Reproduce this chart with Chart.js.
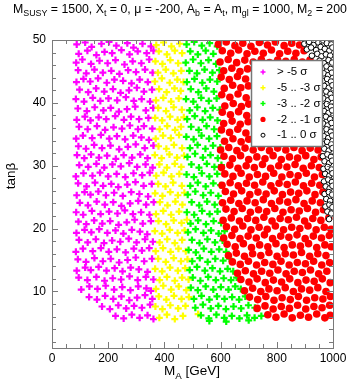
<!DOCTYPE html>
<html>
<head>
<meta charset="utf-8">
<script src="https://cdn.jsdelivr.net/npm/chart.js@4.4.0/dist/chart.umd.min.js"></script>
<style>
html, body { margin: 0; padding: 0; background: #fff; }
</style>
</head>
<body>
<canvas id="myChart" width="351" height="382"></canvas>
<script>
// puntos: [mA, tanb, mA, tanb, ...]
const magenta = [
  88,49.3, 118,49.6, 141,48.9, 176,49.4, 203,49.7, 229,49.1, 268,49.5, 290,48.8, 322,49.4, 352,49.0,
  95,47.8, 126,48.3, 158,47.6, 187,48.1, 214,47.9, 247,48.4, 276,47.7, 305,48.2, 337,47.9, 361,48.3,
  86,46.4, 108,46.9, 139,46.2, 169,46.7, 198,46.3, 226,46.8, 258,46.1, 287,46.6, 318,46.3, 346,46.9,
  93,45.2, 122,44.7, 151,45.3, 181,44.8, 211,45.1, 240,44.6, 271,45.2, 299,44.9, 331,45.3, 358,44.8,
  87,43.3, 112,43.8, 136,43.4, 164,43.9, 195,43.2, 222,43.7, 253,43.5, 283,43.1, 312,43.7, 341,43.3,
  98,42.1, 129,41.7, 157,42.3, 186,41.8, 217,42.2, 244,41.6, 274,42.0, 302,42.4, 327,41.8, 356,42.1,
  85,40.6, 114,40.2, 145,40.8, 172,40.3, 201,40.7, 232,40.4, 263,40.9, 291,40.3, 319,40.6, 349,40.2,
  92,39.1, 124,38.7, 152,39.3, 183,38.8, 209,39.2, 238,38.6, 267,39.0, 296,39.4, 334,38.8, 360,39.2,
  88,37.3, 117,37.8, 137,37.2, 166,37.7, 193,37.4, 225,37.9, 256,37.3, 281,37.8, 310,37.4, 343,37.6,
  96,36.2, 127,35.8, 160,36.3, 189,35.7, 219,36.1, 249,35.9, 277,36.4, 306,35.8, 327,36.3, 357,35.9,
  86,34.3, 110,34.8, 143,34.4, 174,34.9, 204,34.3, 231,34.7, 260,34.2, 289,34.8, 318,34.5, 345,34.1,
  94,33.1, 121,32.7, 150,33.3, 178,32.8, 208,33.2, 239,32.6, 270,33.0, 298,33.4, 330,32.8, 361,33.2,
  89,31.7, 115,31.2, 139,31.8, 167,31.3, 196,31.6, 227,31.1, 255,31.7, 285,31.3, 314,31.8, 340,31.2,
  97,30.1, 129,29.8, 158,30.3, 186,29.7, 215,30.2, 245,29.9, 275,30.4, 303,29.8, 333,30.2, 358,29.7,
  85,28.3, 112,28.8, 144,28.4, 171,28.9, 200,28.3, 230,28.7, 261,28.2, 290,28.8, 321,28.5, 348,28.9,
  93,27.2, 123,26.7, 153,27.3, 182,26.8, 211,27.1, 236,26.6, 268,27.0, 297,27.4, 326,26.8, 355,27.1,
  88,25.3, 116,25.8, 137,25.4, 165,25.9, 192,25.3, 221,25.7, 252,25.2, 282,25.8, 311,25.5, 342,25.1,
  99,24.1, 128,23.7, 159,24.3, 188,23.8, 218,24.2, 247,23.6, 278,24.0, 307,24.4, 335,23.8, 362,24.2,
  86,22.6, 111,22.2, 142,22.8, 173,22.3, 203,22.7, 233,22.4, 259,22.9, 288,22.3, 317,22.6, 347,22.2,
  94,21.1, 122,20.7, 150,21.3, 179,20.8, 207,21.2, 237,20.6, 266,21.0, 294,21.4, 323,20.8, 352,21.2,
  87,19.3, 116,19.8, 140,19.4, 168,19.9, 197,19.3, 226,19.7, 254,19.2, 284,19.8, 313,19.5, 339,19.1,
  96,18.2, 127,17.8, 156,18.3, 185,17.7, 214,18.1, 243,17.9, 273,18.4, 301,17.8, 331,18.3, 359,17.9,
  85,16.3, 110,16.8, 145,16.4, 174,16.9, 202,16.3, 231,16.7, 262,16.2, 291,16.8, 320,16.5, 346,16.9,
  92,15.1, 121,14.7, 151,15.3, 181,14.8, 209,15.2, 239,14.6, 269,15.0, 298,15.4, 328,14.8, 356,15.2,
  88,13.3, 118,13.8, 138,13.4, 166,13.9, 194,13.3, 223,13.7, 251,13.2, 280,13.8, 309,13.5, 340,13.1,
  95,12.2, 126,11.8, 158,12.3, 187,11.7, 216,12.1, 246,11.9, 276,12.4, 305,11.8, 334,12.3, 361,11.9,
  104,10.3, 133,10.8, 162,10.4, 191,10.9, 221,10.3, 250,10.7, 279,10.2, 307,10.8, 336,10.5, 352,10.1,
  132,9.1, 160,8.7, 189,9.3, 218,8.8, 247,9.2, 275,8.6, 303,9.0, 331,9.4, 357,8.8,
  178,7.6, 206,7.2, 236,7.8, 264,7.3, 292,7.7, 320,7.4, 349,7.9,
  226,6.1, 255,5.7, 284,6.3, 312,5.8, 340,6.2, 361,5.6
];
const amarillo = [
  371,49.2, 397,49.6, 425,49.0, 454,49.4,
  380,48.2, 409,47.7, 437,48.3, 463,47.9,
  368,46.6, 393,46.2, 421,46.8, 449,46.3,
  377,44.8, 405,45.3, 432,44.7, 460,45.1,
  366,43.4, 391,43.9, 419,43.2, 446,43.7, 468,43.3,
  381,42.2, 408,41.7, 436,42.3, 458,41.9,
  370,40.4, 396,40.8, 424,40.2, 451,40.7,
  378,39.2, 406,38.7, 433,39.3, 462,38.9,
  367,37.6, 392,37.2, 420,37.8, 447,37.3, 469,37.7,
  383,35.8, 410,36.3, 438,35.7, 459,36.2,
  369,34.3, 395,34.8, 423,34.4, 452,34.9,
  379,33.1, 407,32.7, 434,33.3, 463,32.8,
  366,31.7, 390,31.2, 418,31.8, 445,31.3, 470,31.6,
  382,30.2, 409,29.7, 437,30.3, 460,29.8,
  371,28.4, 397,28.9, 425,28.3, 453,28.7,
  378,27.1, 404,26.7, 431,27.3, 462,26.8,
  367,25.6, 393,25.2, 421,25.8, 448,25.3, 471,25.7,
  384,24.2, 411,23.7, 439,24.3, 464,23.8,
  370,22.3, 396,22.8, 424,22.2, 452,22.7,
  379,21.2, 406,20.7, 433,21.3, 461,20.9, 480,21.4,
  366,19.6, 392,19.2, 419,19.8, 447,19.3, 472,19.7,
  383,17.8, 410,18.3, 437,17.7, 463,18.2,
  369,16.4, 395,16.9, 422,16.3, 450,16.8, 476,16.4,
  378,15.2, 405,14.7, 433,15.3, 459,14.8, 482,15.1,
  367,13.6, 392,13.2, 420,13.8, 448,13.3, 474,13.7,
  383,11.8, 409,12.3, 437,11.7, 463,12.2, 486,11.9,
  370,10.4, 396,10.9, 424,10.3, 451,10.8, 478,10.2,
  380,9.2, 407,8.7, 434,9.3, 461,8.8, 487,9.1,
  368,7.6, 393,7.2, 421,7.8, 449,7.3, 475,7.7,
  382,5.8, 409,6.3, 437,5.6, 466,6.1, 520,6.4
];
const verde = [
  479,49.3, 506,49.7, 533,49.1, 561,49.5, 588,49.0,
  492,48.2, 519,47.7, 547,48.3, 574,47.8,
  476,46.4, 502,46.9, 530,46.3, 557,46.8, 584,46.2,
  489,45.1, 516,44.7, 543,45.3, 571,44.8, 596,45.2,
  480,43.3, 507,43.8, 535,43.2, 562,43.7, 588,43.4,
  494,42.2, 521,41.7, 549,42.3, 576,41.8,
  477,40.6, 503,40.2, 531,40.8, 558,40.3, 586,40.7,
  490,38.8, 517,39.3, 545,38.7, 572,39.2, 597,38.9,
  481,37.4, 508,37.9, 536,37.3, 563,37.7, 589,37.2,
  495,36.2, 522,35.7, 550,36.3, 577,35.8,
  478,34.6, 504,34.2, 532,34.8, 559,34.3, 587,34.7,
  491,32.8, 518,33.3, 546,32.7, 573,33.2, 599,32.9,
  482,31.4, 509,31.9, 537,31.3, 564,31.7, 590,31.2,
  496,30.2, 523,29.7, 551,30.3, 578,29.8, 603,30.1,
  479,28.6, 505,28.2, 533,28.8, 560,28.3, 588,28.7,
  492,26.8, 519,27.3, 547,26.7, 574,27.2, 600,26.9,
  483,25.4, 510,25.9, 538,25.3, 565,25.7, 592,25.2,
  497,24.2, 524,23.7, 552,24.3, 579,23.8, 605,24.1,
  480,22.6, 506,22.2, 534,22.8, 561,22.3, 589,22.7,
  493,20.8, 520,21.3, 548,20.7, 575,21.2, 602,20.9,
  484,19.4, 511,19.9, 539,19.3, 566,19.7, 593,19.2, 614,19.6,
  498,18.2, 525,17.7, 553,18.3, 580,17.8, 607,18.1,
  486,16.6, 512,16.2, 540,16.8, 567,16.3, 595,16.7, 620,16.3,
  499,14.8, 526,15.3, 554,14.7, 581,15.2, 609,14.9, 632,15.2,
  490,13.4, 516,13.9, 544,13.3, 571,13.7, 598,13.2, 625,13.6, 645,13.2,
  501,12.2, 528,11.7, 556,12.3, 583,11.8, 611,12.1, 637,11.8, 657,12.2,
  494,10.6, 519,10.2, 547,10.8, 574,10.3, 601,10.7, 628,10.3, 652,10.8, 672,10.4,
  505,8.8, 532,9.3, 560,8.7, 587,9.2, 614,8.8, 641,9.1, 666,8.7, 688,9.2,
  510,7.4, 537,7.9, 565,7.3, 592,7.7, 619,7.2, 646,7.6, 673,7.3, 699,7.8, 722,7.4,
  530,6.2, 558,5.7, 585,6.3, 613,5.8, 640,6.1, 667,5.7, 694,6.2, 721,5.8, 745,6.1,
  560,5.3, 620,5.2, 700,5.4
];
const rojo = [
  592,49.3, 620,49.7, 651,49.1, 679,49.5, 708,49.0, 738,49.6, 767,49.2, 795,49.7, 826,49.1, 853,49.5, 881,49.2,
  606,48.3, 636,47.9, 664,48.4, 694,47.8, 722,48.2, 752,47.9, 781,48.4, 810,47.8, 839,48.2, 868,47.9, 897,48.3,
  598,46.5, 627,46.9, 657,46.4, 686,46.8, 716,46.5, 745,46.9, 774,46.4, 803,46.8, 832,46.6, 862,46.9, 891,46.5, 918,46.8,
  611,45.1, 640,45.5, 669,45.0, 696,45.4,
  602,44.1, 631,43.7, 660,44.2, 689,43.8,
  613,42.3, 643,42.8, 672,42.4, 699,42.7,
  604,41.3, 633,40.9, 662,41.4, 691,40.8,
  615,39.5, 645,39.9, 674,39.4, 700,39.8,
  606,38.5, 635,38.1, 664,38.6, 693,38.0,
  611,36.7, 641,37.1, 670,36.6, 698,37.0,
  603,35.7, 632,35.3, 661,35.8, 690,35.2,
  614,33.9, 644,34.3, 673,33.8, 700,34.2,
  600,32.5, 629,32.9, 658,32.4, 687,32.8, 716,32.5, 745,32.9, 774,32.4, 803,32.8, 832,32.5, 861,32.9, 890,32.4, 919,32.8, 947,32.5,
  612,31.5, 642,31.1, 671,31.6, 700,31.0, 729,31.4, 758,31.1, 787,31.6, 816,31.0, 845,31.4, 874,31.2, 903,31.6, 932,31.0, 958,31.4,
  603,29.7, 633,30.1, 662,29.6, 691,30.0, 720,29.7, 749,30.2, 778,29.6, 807,30.0, 836,29.8, 865,30.2, 894,29.6, 923,30.0, 951,29.7,
  615,28.7, 644,28.3, 673,28.8, 702,28.2, 731,28.6, 760,28.3, 789,28.8, 818,28.2, 847,28.6, 876,28.4, 905,28.8, 934,28.2, 962,28.6,
  605,26.9, 634,27.3, 663,26.8, 692,27.2, 721,26.9, 750,27.4, 779,26.8, 808,27.2, 837,27.0, 866,27.4, 895,26.8, 924,27.2, 953,26.9,
  617,25.9, 646,25.5, 675,26.0, 704,25.4, 733,25.8, 762,25.5, 791,26.0, 820,25.4, 849,25.8, 878,25.6, 907,26.0, 936,25.4, 964,25.8,
  607,24.1, 636,24.5, 665,24.0, 694,24.4, 723,24.1, 752,24.6, 781,24.0, 810,24.4, 839,24.2, 868,24.6, 897,24.0, 926,24.4, 955,24.1,
  619,23.1, 648,22.7, 677,23.2, 706,22.6, 735,23.0, 764,22.7, 793,23.2, 822,22.6, 851,23.0, 880,22.8, 909,23.2, 938,22.6, 966,23.0,
  609,21.3, 638,21.7, 667,21.2, 696,21.6, 725,21.3, 754,21.8, 783,21.2, 812,21.6, 841,21.4, 870,21.8, 899,21.2, 928,21.6, 957,21.3, 985,21.7,
  621,20.3, 650,19.9, 679,20.4, 708,19.8, 737,20.2, 766,19.9, 795,20.4, 824,19.8, 853,20.2, 882,20.0, 911,20.4, 940,19.8, 969,20.2, 993,19.9,
  611,18.5, 640,18.9, 669,18.4, 698,18.8, 727,18.5, 756,19.0, 785,18.4, 814,18.8, 843,18.6, 872,19.0, 901,18.4, 930,18.8, 959,18.5, 987,18.9,
  623,17.5, 652,17.1, 681,17.6, 710,17.0, 739,17.4, 768,17.1, 797,17.6, 826,17.0, 855,17.4, 884,17.2, 913,17.6, 942,17.0, 971,17.4, 994,17.1,
  628,15.7, 656,16.1, 685,15.6, 714,16.0, 743,15.7, 772,16.2, 801,15.6, 830,16.0, 859,15.8, 888,16.2, 917,15.6, 946,16.0, 975,15.7,
  642,14.7, 670,14.3, 699,14.8, 728,14.2, 757,14.6, 786,14.3, 815,14.8, 844,14.2, 873,14.6, 902,14.4, 931,14.8, 960,14.2, 988,14.6,
  660,12.9, 688,13.3, 717,12.8, 746,13.2, 775,12.9, 804,13.4, 833,12.8, 862,13.2, 891,13.0, 920,13.4, 949,12.8, 978,13.2,
  672,11.9, 701,11.5, 730,12.0, 759,11.4, 788,11.8, 817,11.5, 846,12.0, 875,11.4, 904,11.8, 933,11.6, 962,12.0, 990,11.4,
  685,10.1, 714,10.5, 743,10.0, 772,10.4, 801,10.1, 830,10.6, 859,10.0, 888,10.4, 917,10.2, 946,10.6, 975,10.0,
  703,9.1, 732,8.7, 761,9.2, 790,8.6, 819,9.0, 848,8.7, 877,9.2, 906,8.6, 935,9.0, 964,8.8, 991,9.2,
  730,7.3, 758,7.7, 787,7.2, 816,7.6, 845,7.3, 874,7.8, 903,7.2, 932,7.6, 961,7.4, 988,7.8,
  768,6.3, 797,5.9, 826,6.4, 855,5.8, 884,6.2, 913,5.9, 942,6.4, 971,5.8, 990,6.2
];
const negro = [
  898,49.4, 915,49.7, 931,49.2, 948,49.6, 963,49.1, 978,49.5, 994,49.3,
  907,48.5, 922,48.8, 940,48.4, 956,48.9, 971,48.6, 987,48.3, 998,48.8,
  925,47.5, 944,47.8, 959,47.4, 975,47.7, 990,47.5,
  952,46.7, 968,46.3, 984,46.8, 997,46.4,
  962,45.5, 977,45.8, 992,45.4,
  967,44.7, 983,44.4, 996,44.8,
  964,43.5, 979,43.8, 993,43.4,
  969,42.7, 985,42.4, 998,42.8,
  962,41.5, 976,41.8, 991,41.4,
  966,40.7, 982,40.4, 995,40.8,
  963,39.5, 978,39.8, 993,39.4,
  968,38.7, 984,38.4, 997,38.8,
  961,37.5, 975,37.8, 990,37.4,
  965,36.7, 981,36.4, 995,36.8,
  962,35.5, 977,35.8, 992,35.4,
  967,34.7, 983,34.4, 997,34.8,
  963,33.5, 979,33.8, 994,33.4,
  969,32.7, 985,32.4, 998,32.8,
  964,31.5, 980,31.8, 993,31.4,
  970,30.7, 986,30.4, 997,30.8,
  966,29.5, 981,29.8, 995,29.4,
  972,28.7, 987,28.4, 998,28.8,
  968,27.5, 983,27.8, 996,27.4,
  974,26.7, 988,26.4, 998,26.8,
  970,25.5, 985,25.8, 997,25.4,
  976,24.7, 990,24.4,
  973,23.5, 987,23.8, 998,23.4,
  980,22.7, 994,22.4,
  986,21.5
];
const etiquetas = ['> -5 \u03c3', '-5 .. -3 \u03c3', '-3 .. -2 \u03c3', '-2 .. -1 \u03c3', '-1 .. 0 \u03c3'];
const xTicks = [0, 200, 400, 600, 800, 1000];
const yTicks = [10, 20, 30, 40, 50];

const fuente = '"Liberation Sans", Arial, sans-serif';

function pares(arr) {
  const out = [];
  for (let i = 0; i < arr.length; i += 2) out.push({x: arr[i], y: arr[i + 1]});
  return out;
}

const estilos = [
  {pointStyle: 'cross', radius: 3.5, borderWidth: 2.2, borderColor: '#ff00ff', backgroundColor: '#ff00ff'},
  {pointStyle: 'cross', radius: 3.5, borderWidth: 2.2, borderColor: '#ffff00', backgroundColor: '#ffff00'},
  {pointStyle: 'cross', radius: 3.5, borderWidth: 2.2, borderColor: '#00ff00', backgroundColor: '#00ff00'},
  {pointStyle: 'circle', radius: 3.8, borderWidth: 0, borderColor: '#ff0000', backgroundColor: '#ff0000'},
  {pointStyle: 'circle', radius: 2.8, borderWidth: 1, borderColor: '#000', backgroundColor: '#fff'}
];
const series = [magenta, amarillo, verde, rojo, negro];

const datasets = series.map((s, i) => ({
  label: etiquetas[i],
  data: pares(s),
  pointStyle: estilos[i].pointStyle,
  pointRadius: estilos[i].radius,
  pointBorderWidth: estilos[i].borderWidth,
  pointBorderColor: estilos[i].borderColor,
  pointBackgroundColor: estilos[i].backgroundColor,
  order: 4 - i
}));

// texto con subindices
function textoRico(ctx, partes, x, y, size) {
  let cx = x;
  for (const p of partes) {
    const s = p.sub ? size * 0.72 : size;
    ctx.font = s + 'px ' + fuente;
    ctx.fillText(p.t, cx, p.sub ? y + size * 0.28 : y);
    cx += ctx.measureText(p.t).width;
  }
  return cx - x;
}
function anchoRico(ctx, partes, size) {
  let w = 0;
  for (const p of partes) {
    ctx.font = (p.sub ? size * 0.72 : size) + 'px ' + fuente;
    w += ctx.measureText(p.t).width;
  }
  return w;
}

const titulo = [
  {t: 'M'}, {t: 'SUSY', sub: true}, {t: ' = 1500, X'}, {t: 't', sub: true}, {t: ' = 0, \u03bc = -200, A'},
  {t: 'b', sub: true}, {t: ' = A'}, {t: 't', sub: true}, {t: ', m'}, {t: 'gl', sub: true},
  {t: ' = 1000, M'}, {t: '2', sub: true}, {t: ' = 200'}
];
const tituloX = [{t: 'M'}, {t: 'A', sub: true}, {t: ' [GeV]'}];

const marco = {
  id: 'marco',
  afterDraw(chart) {
    const {ctx, chartArea: a, scales: {x, y}} = chart;
    ctx.save();
    ctx.strokeStyle = '#7a7a7a';
    ctx.lineWidth = 1;
    ctx.strokeRect(Math.round(a.left) + 0.5, Math.round(a.top) + 0.5, Math.round(a.right - a.left), Math.round(a.bottom - a.top));
    ctx.beginPath();
    for (let v = 0; v <= 1000; v += 50) {
      const px = Math.round(x.getPixelForValue(v)) + 0.5;
      const l = v % 200 === 0 ? 6 : 4;
      ctx.moveTo(px, a.bottom); ctx.lineTo(px, a.bottom - l);
      ctx.moveTo(px, a.top); ctx.lineTo(px, a.top + l);
    }
    for (let v = 2; v <= 50; v += 2) {
      const py = Math.round(y.getPixelForValue(v)) + 0.5;
      const l = v % 10 === 0 ? 6 : 4;
      ctx.moveTo(a.left, py); ctx.lineTo(a.left + l, py);
      ctx.moveTo(a.right, py); ctx.lineTo(a.right - l, py);
    }
    ctx.stroke();

    // leyenda
    const lx = 251, ly = 60, lw = 71, lh = 86;
    ctx.fillStyle = '#fff';
    ctx.fillRect(lx, ly, lw, lh);
    ctx.strokeStyle = '#777';
    ctx.lineWidth = 1.5;
    ctx.strokeRect(lx + 0.5, ly + 0.5, lw, lh);
    etiquetas.forEach((t, i) => {
      const yy = 72 + i * 15.8;
      const e = estilos[i];
      ctx.fillStyle = e.backgroundColor;
      ctx.strokeStyle = e.borderColor;
      ctx.lineWidth = e.pointStyle === 'cross' ? 1.5 : e.borderWidth;
      Chart.helpers.drawPoint(ctx, {
        pointStyle: e.pointStyle,
        radius: e.pointStyle === 'cross' ? 2.5 : (i === 3 ? 2.6 : 2),
        borderWidth: e.pointStyle === 'cross' ? 1.5 : e.borderWidth,
        rotation: 0
      }, 263, yy);
      ctx.fillStyle = '#000';
      ctx.font = '11.5px ' + fuente;
      ctx.textBaseline = 'middle';
      ctx.textAlign = 'left';
      ctx.fillText(t, 277, yy);
    });

    // titulos
    ctx.fillStyle = '#000';
    ctx.textBaseline = 'alphabetic';
    const w = anchoRico(ctx, titulo, 12);
    const size = 12 * 334 / w;
    textoRico(ctx, titulo, 13, 13, size);
    const wx = anchoRico(ctx, tituloX, 13.5);
    textoRico(ctx, tituloX, 192 - wx / 2, 375, 13.5);
    ctx.translate(15, 176);
    ctx.rotate(-Math.PI / 2);
    ctx.font = '13.5px ' + fuente;
    ctx.textAlign = 'center';
    ctx.fillText('tan\u03b2', 0, 0);
    ctx.restore();
  }
};

new Chart(document.getElementById('myChart'), {
  type: 'scatter',
  data: {datasets},
  options: {
    responsive: false,
    animation: false,
    layout: {padding: {top: 40, right: 18, left: 0, bottom: 0}},
    plugins: {legend: {display: false}, tooltip: {enabled: false}, title: {display: false}},
    scales: {
      x: {
        type: 'linear', min: 0, max: 1000,
        afterFit: s => { s.height = 34; },
        afterBuildTicks: s => { s.ticks = xTicks.map(v => ({value: v})); },
        grid: {display: false, drawTicks: false},
        border: {display: false},
        ticks: {padding: 3, maxRotation: 0, autoSkip: false, color: '#000', font: {family: fuente, size: 12},
          callback: v => String(v)}
      },
      y: {
        type: 'linear', min: 1, max: 50,
        afterFit: s => { s.width = 52; },
        afterBuildTicks: s => { s.ticks = yTicks.map(v => ({value: v})); },
        grid: {display: false, drawTicks: false},
        border: {display: false},
        ticks: {padding: 6, autoSkip: false, color: '#000', font: {family: fuente, size: 12},
          callback: v => String(v)}
      }
    }
  },
  plugins: [marco]
});
</script>
</body>
</html>
